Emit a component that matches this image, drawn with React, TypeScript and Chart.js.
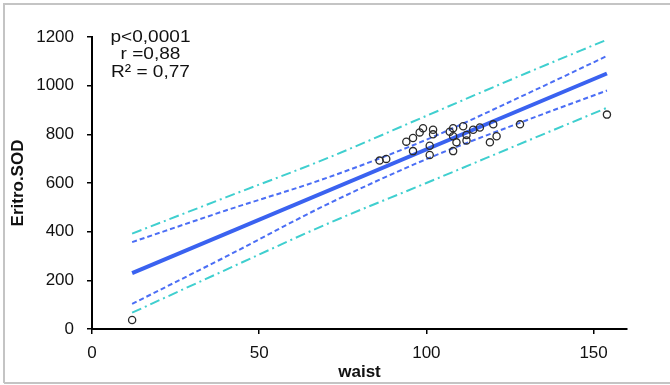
import React, { useEffect, useRef } from 'react';
import { Chart, registerables } from 'chart.js';

Chart.register(...registerables);

// Observed points (waist, Eritro.SOD)
const waist = [12, 86, 88, 94, 96, 96, 98, 99, 101, 101, 102, 102, 107, 108, 108, 108, 109, 111, 112, 112, 114, 116, 119, 120, 121, 128, 154];
const sod = [37, 692, 699, 770, 785, 731, 808, 825, 753, 715, 819, 800, 811, 825, 792, 731, 767, 833, 797, 775, 819, 828, 767, 841, 792, 841, 881];

// Regression line end points
const fitX = [12, 154];
const fitY = [230, 1050];

// Confidence and prediction bands read at these waist values
const bandX = [12, 40, 70, 100, 130, 154];
const confUpper = [357, 487, 620, 778, 966, 1122];
const confLower = [103, 297, 510, 698, 858, 980];
const predUpper = [392, 541, 700, 876, 1052, 1189];
const predLower = [67, 243, 430, 600, 772, 909];

const xTicks = [0, 50, 100, 150];
const yTicks = [0, 200, 400, 600, 800, 1000, 1200];
const statLines = ['p<0,0001', 'r =0,88', 'R² = 0,77'];

const FONT = '"Liberation Sans", Arial, sans-serif';

const toPts = (xs: number[], ys: number[]) => xs.map((x, i) => ({ x, y: ys[i] }));

export default function App() {
  const ref = useRef<HTMLCanvasElement | null>(null);

  useEffect(() => {
    document.body.style.margin = '0';
    const canvas = ref.current;
    if (!canvas) return;

    const framePlugin = {
      id: 'frame',
      beforeDraw(chart: any) {
        const ctx = chart.ctx;
        ctx.save();
        ctx.fillStyle = '#ffffff';
        ctx.fillRect(0, 0, chart.width, chart.height);
        ctx.strokeStyle = '#c4c4c4';
        ctx.lineWidth = 2;
        ctx.beginPath();
        ctx.moveTo(4, 383);
        ctx.lineTo(4, 4);
        ctx.lineTo(670, 4);
        ctx.moveTo(4, 383);
        ctx.lineTo(670, 383);
        ctx.stroke();
        ctx.restore();
      },
      afterDraw(chart: any) {
        const ctx = chart.ctx;
        ctx.save();
        ctx.fillStyle = '#111';
        ctx.font = `17px ${FONT}`;
        ctx.textAlign = 'center';
        ctx.textBaseline = 'alphabetic';
        const baselines = [41.7, 59.2, 76.7];
        statLines.forEach((t, i) => {
          ctx.save();
          ctx.translate(150.5, baselines[i]);
          ctx.scale(1.12, 1);
          ctx.fillText(t, 0, 0);
          ctx.restore();
        });
        ctx.restore();
      },
    };

    const chart = new Chart(canvas, {
      type: 'scatter',
      data: {
        datasets: [
          {
            label: 'data',
            data: toPts(waist, sod),
            pointRadius: 3.6,
            pointHoverRadius: 3.6,
            pointBorderWidth: 1.3,
            borderColor: '#2a2a2a',
            backgroundColor: 'rgba(0,0,0,0)',
            showLine: false,
          },
          {
            label: 'fit',
            data: toPts(fitX, fitY),
            showLine: true,
            borderColor: '#3a62f0',
            borderWidth: 4,
            pointRadius: 0,
          },
          {
            label: 'conf upper',
            data: toPts(bandX, confUpper),
            showLine: true,
            borderColor: '#4b6ef5',
            borderWidth: 2,
            borderDash: [5, 3],
            pointRadius: 0,
            cubicInterpolationMode: 'monotone',
          },
          {
            label: 'conf lower',
            data: toPts(bandX, confLower),
            showLine: true,
            borderColor: '#4b6ef5',
            borderWidth: 2,
            borderDash: [5, 3],
            pointRadius: 0,
            cubicInterpolationMode: 'monotone',
          },
          {
            label: 'pred upper',
            data: toPts(bandX, predUpper),
            showLine: true,
            borderColor: '#3fcfcf',
            borderWidth: 2,
            borderDash: [10, 4, 2, 4],
            pointRadius: 0,
            cubicInterpolationMode: 'monotone',
          },
          {
            label: 'pred lower',
            data: toPts(bandX, predLower),
            showLine: true,
            borderColor: '#3fcfcf',
            borderWidth: 2,
            borderDash: [10, 4, 2, 4],
            pointRadius: 0,
            cubicInterpolationMode: 'monotone',
          },
        ],
      } as any,
      options: {
        responsive: false,
        animation: false,
        devicePixelRatio: 1,
        layout: { padding: { left: 0, top: 37, right: 43, bottom: 0 } },
        plugins: {
          legend: { display: false },
          tooltip: { enabled: false },
        },
        scales: {
          x: {
            type: 'linear',
            min: 0,
            max: 160,
            afterBuildTicks: (s: any) => {
              s.ticks = xTicks.map((v) => ({ value: v }));
            },
            afterFit: (s: any) => {
              s.height = 56;
            },
            border: { display: true, color: '#000', width: 2 },
            grid: { drawOnChartArea: false, drawTicks: true, tickLength: 5, color: '#000', lineWidth: 1.5 },
            ticks: {
              color: '#111',
              font: { family: FONT, size: 17 },
              padding: 9,
              callback: (v: any) => String(v),
            },
            title: {
              display: true,
              text: 'waist',
              color: '#111',
              font: { family: FONT, size: 17, weight: 'bold' },
              padding: { top: 0, bottom: 2 },
            },
          },
          y: {
            type: 'linear',
            min: 0,
            max: 1200,
            afterBuildTicks: (s: any) => {
              s.ticks = yTicks.map((v) => ({ value: v }));
            },
            afterFit: (s: any) => {
              s.width = 92;
            },
            border: { display: true, color: '#000', width: 2 },
            grid: { drawOnChartArea: false, drawTicks: true, tickLength: 5, color: '#000', lineWidth: 1.5 },
            ticks: {
              color: '#111',
              font: { family: FONT, size: 17 },
              padding: 13,
              callback: (v: any) => String(v),
            },
            title: {
              display: true,
              text: 'Eritro.SOD',
              color: '#111',
              font: { family: FONT, size: 17, weight: 'bold' },
              padding: { top: 8, bottom: 0 },
            },
          },
        },
      } as any,
      plugins: [framePlugin],
    });

    return () => chart.destroy();
  }, []);

  return (
    <div style={{ position: 'fixed', left: 0, top: 0, width: 670, height: 385 }}>
      <canvas ref={ref} width={670} height={385} style={{ display: 'block', width: 670, height: 385 }} />
    </div>
  );
}
